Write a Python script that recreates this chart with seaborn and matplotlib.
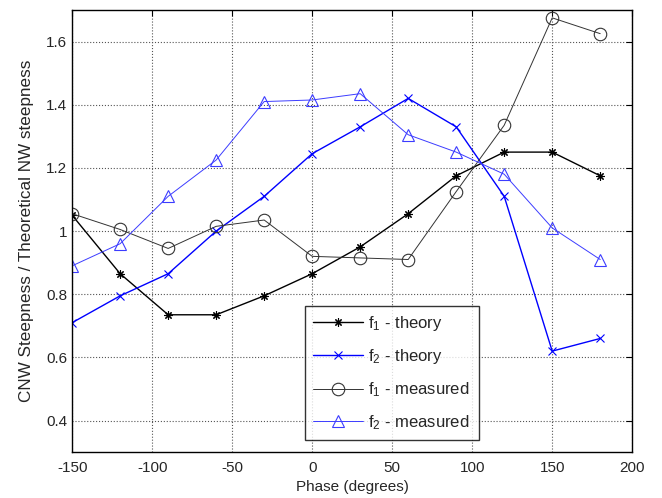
import numpy as np
import pandas as pd
import seaborn as sns
import matplotlib
matplotlib.use('Agg')
import matplotlib.pyplot as plt

phase = [-150, -120, -90, -60, -30, 0, 30, 60, 90, 120, 150, 180]

f1_theory = [1.05, 0.865, 0.735, 0.735, 0.795, 0.865, 0.95, 1.055, 1.175, 1.25, 1.25, 1.175]
f2_theory = [0.71, 0.795, 0.865, 1.0, 1.11, 1.245, 1.33, 1.42, 1.33, 1.11, 0.62, 0.66]
f1_measured = [1.055, 1.005, 0.945, 1.015, 1.035, 0.92, 0.915, 0.91, 1.125, 1.335, 1.675, 1.625]
f2_measured = [0.89, 0.96, 1.11, 1.225, 1.41, 1.415, 1.435, 1.305, 1.25, 1.18, 1.01, 0.91]

labels = [r'$\mathregular{f_1}$ - theory', r'$\mathregular{f_2}$ - theory',
          r'$\mathregular{f_1}$ - measured', r'$\mathregular{f_2}$ - measured']
all_vals = [f1_theory, f2_theory, f1_measured, f2_measured]

rows = []
for lab, vals in zip(labels, all_vals):
    for x, y in zip(phase, vals):
        rows.append({'phase': x, 'ratio': y, 'series': lab})
df = pd.DataFrame(rows)

sns.set_style('white')
plt.rcParams['font.family'] = ['Liberation Sans', 'DejaVu Sans']
plt.rcParams['mathtext.fontset'] = 'custom'
plt.rcParams['mathtext.rm'] = 'Liberation Sans'
plt.rcParams['axes.unicode_minus'] = False

colors = {labels[0]: 'black', labels[1]: '#0000ff', labels[2]: '#333333', labels[3]: '#3c3cff'}
markers = {labels[0]: (8, 2, 0), labels[1]: 'x', labels[2]: 'o', labels[3]: '^'}
widths = [1.0, 1.0, 0.7, 0.7]

fig = plt.figure(figsize=(6.62, 4.98), dpi=100)
ax = fig.add_axes([0.109, 0.092, 0.846, 0.888])

for lab, lw in zip(labels, widths):
    sub = df[df['series'] == lab]
    m = markers[lab]
    sns.lineplot(data=sub, x='phase', y='ratio', ax=ax, color=colors[lab], label=lab,
                 marker=m, markersize=9 if m in ('o', '^') else 6, linewidth=lw,
                 markerfacecolor='none', markeredgecolor=colors[lab], markeredgewidth=0.8)

ax.set_xlim(-150, 200)
ax.set_ylim(0.3, 1.7)
ax.set_xticks(np.arange(-150, 201, 50))
ax.set_yticks([0.4, 0.6, 0.8, 1.0, 1.2, 1.4, 1.6])
ax.set_yticklabels(['0.4', '0.6', '0.8', '1', '1.2', '1.4', '1.6'])
ax.grid(True, linestyle=':', color='#555555', linewidth=0.8)
ax.tick_params(direction='in', length=4, labelsize=11, top=True, right=True, color='black')
ax.tick_params(axis='x', pad=6)
for s in ax.spines.values():
    s.set_color('black')
    s.set_linewidth(1.0)
ax.set_xlabel('Phase (degrees)', fontsize=11, labelpad=4)
ax.set_ylabel('CNW Steepness / Theoretical NW steepness', fontsize=12.3, labelpad=9)

leg = ax.legend(loc='lower left', bbox_to_anchor=(0.416, 0.027, 0.31, 0.306), mode='expand',
                borderaxespad=0, fontsize=12, frameon=True, fancybox=False, edgecolor='black',
                handlelength=3.0, handletextpad=0.3, labelspacing=0.85, borderpad=0.5)
leg.get_frame().set_linewidth(1.0)

plt.savefig('out.png', dpi=100)
